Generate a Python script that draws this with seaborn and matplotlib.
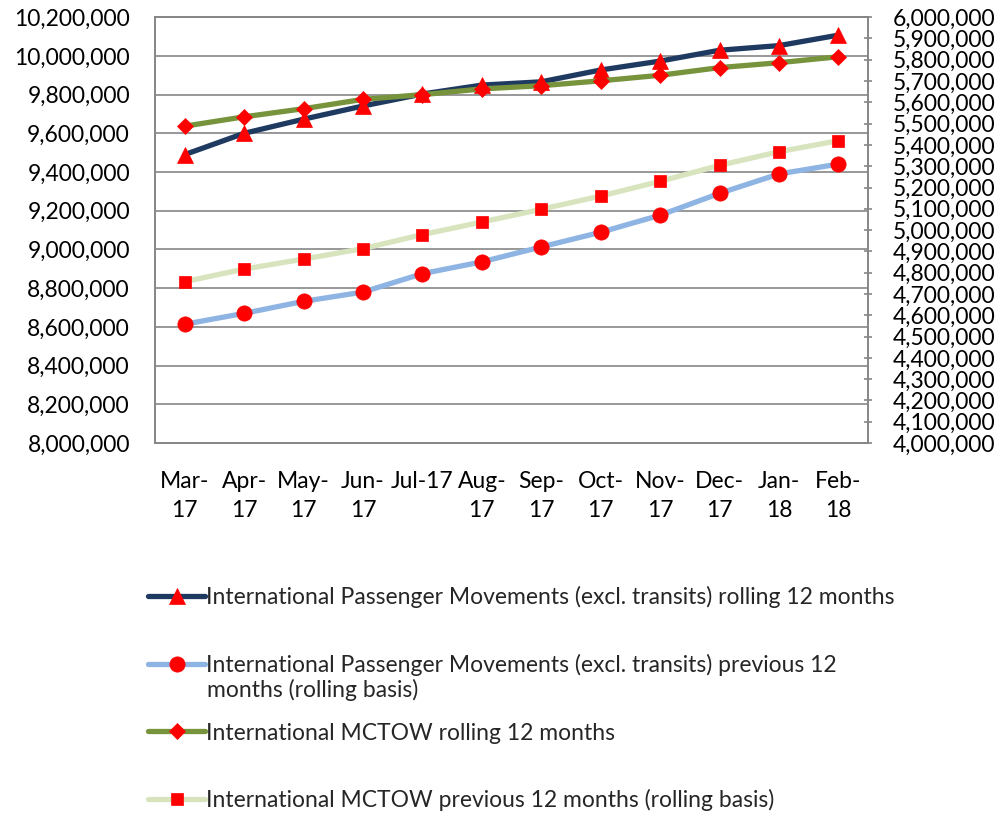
import matplotlib.pyplot as plt
import pandas as pd
import seaborn as sns
from matplotlib.ticker import FuncFormatter, MultipleLocator

months = ["Mar-17", "Apr-17", "May-17", "Jun-17", "Jul-17", "Aug-17",
          "Sep-17", "Oct-17", "Nov-17", "Dec-17", "Jan-18", "Feb-18"]
tick_labels = ["Mar-\n17", "Apr-\n17", "May-\n17", "Jun-\n17", "Jul-17", "Aug-\n17",
               "Sep-\n17", "Oct-\n17", "Nov-\n17", "Dec-\n17", "Jan-\n18", "Feb-\n18"]

# left axis
pax_rolling = [9490000, 9600000, 9673000, 9741000, 9803000, 9849000,
               9866000, 9927000, 9973000, 10029000, 10053000, 10107000]
pax_previous = [8614000, 8670000, 8732000, 8780000, 8875000, 8936000,
                9013000, 9089000, 9177000, 9290000, 9390000, 9441000]
# right axis
mctow_rolling = [5488000, 5532000, 5570000, 5614000, 5636000, 5663000,
                 5678000, 5701000, 5727000, 5763000, 5786000, 5814000]
mctow_previous = [4758000, 4817000, 4864000, 4913000, 4979000, 5038000,
                  5098000, 5160000, 5229000, 5304000, 5368000, 5420000]

labels = [
    "International Passenger Movements (excl. transits) rolling 12 months",
    "International Passenger Movements (excl. transits) previous 12",
    "International MCTOW rolling 12 months",
    "International MCTOW previous 12 months (rolling basis)",
]

df = pd.DataFrame({
    "month": months,
    "pax_rolling": pax_rolling,
    "pax_previous": pax_previous,
    "mctow_rolling": mctow_rolling,
    "mctow_previous": mctow_previous,
})

sns.set_theme(style="white")
plt.rcParams["font.family"] = ["Lato", "DejaVu Sans"]
FS = 16.5
grey = "#868686"

fig = plt.figure(figsize=(10.03, 8.16), dpi=100)
ax = fig.add_axes([0.1545, 0.457, 0.711, 0.522])
ax2 = ax.twinx()

red = "#FF0000"
series = [
    (ax, "pax_rolling", "#1F3A60", "^", 11),
    (ax, "pax_previous", "#8EB4E3", "o", 11),
    (ax2, "mctow_rolling", "#77933C", "D", 8),
    (ax2, "mctow_previous", "#D7E4BD", "s", 8.5),
]
handles = []
for a, col, color, mk, ms in series:
    sns.lineplot(data=df, x="month", y=col, ax=a, color=color, linewidth=3.8,
                 marker=mk, markersize=ms, markerfacecolor=red,
                 markeredgecolor=red, markeredgewidth=0.5, sort=False)
    handles.append(a.lines[-1])

ax.set_xlim(-0.5, 11.5)
ax.set_ylim(8000000, 10200000)
ax2.set_ylim(4000000, 6000000)
ax.yaxis.set_major_locator(MultipleLocator(200000))
ax2.yaxis.set_major_locator(MultipleLocator(100000))
fmt = FuncFormatter(lambda v, p: f"{v:,.0f}")
ax.yaxis.set_major_formatter(fmt)
ax2.yaxis.set_major_formatter(fmt)

ax.set_xticks(range(len(months)))
ax.set_xticklabels(tick_labels, linespacing=1.5)
ax.set_xlabel("")
ax.set_ylabel("")
ax2.set_ylabel("")

ax.grid(axis="y", color=grey, linewidth=1.2)
ax.set_axisbelow(True)
ax2.grid(False)
for a in (ax, ax2):
    for s in a.spines.values():
        s.set_color(grey)
        s.set_linewidth(1.2)

ax.tick_params(axis="y", length=0, pad=18, labelsize=FS, labelcolor="black")
ax.tick_params(axis="x", length=0, pad=20, labelsize=FS, labelcolor="black")
ax2.tick_params(axis="y", length=6, width=1.2, color=grey, direction="inout",
                pad=15, labelsize=FS, labelcolor="black")

rows = [597, 665, 733, 800]
for h, lab, y in zip(handles, labels, rows):
    fig.legend([h], [lab], loc="center left",
               bbox_to_anchor=(148 / 1003, 1 - y / 816),
               frameon=False, fontsize=FS, borderpad=0, borderaxespad=0,
               handlelength=2.5, handletextpad=0.05)
fig.text(207 / 1003, 1 - 690 / 816, "months (rolling basis)", fontsize=FS,
         va="center", ha="left")

fig.savefig("out.png", dpi=100)
